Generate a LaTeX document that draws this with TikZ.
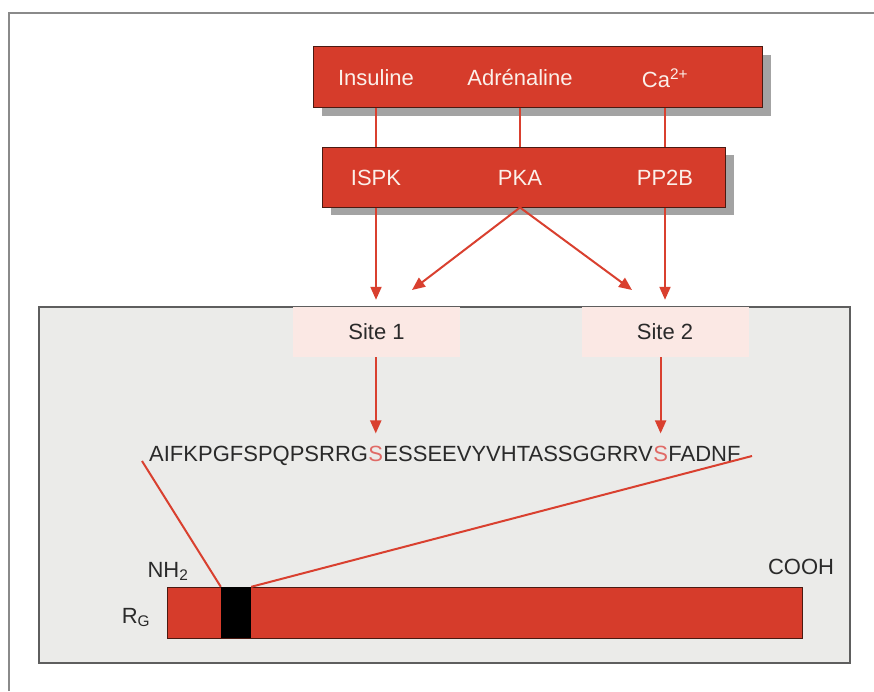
\documentclass[tikz,border=0pt]{standalone}
\usepackage{fontspec}
\setmainfont{Liberation Sans}
\usetikzlibrary{arrows.meta,calc}
\definecolor{boxred}{HTML}{D63C2B}
\definecolor{boxedge}{HTML}{4A1A12}
\definecolor{linered}{HTML}{D9402F}
\definecolor{shadowgray}{HTML}{A3A3A3}
\definecolor{panelfill}{HTML}{EBEBE9}
\definecolor{paneledge}{HTML}{5E5E5E}
\definecolor{sitepink}{HTML}{FBE8E4}
\definecolor{framegray}{HTML}{8A8A8A}
\definecolor{txtdark}{HTML}{2A2A2A}
\definecolor{sred}{HTML}{E06A66}
\definecolor{whitetxt}{HTML}{FBF0EA}
\tikzset{
  redbox/.style={rectangle, fill=boxred, draw=boxedge, line width=1pt, inner sep=0pt},
  shadowbox/.style={rectangle, fill=shadowgray, inner sep=0pt},
  boxtxt/.style={font=\fontsize{22}{26}\selectfont, text=whitetxt, inner sep=0pt},
  conn/.style={draw=linered, line width=2pt},
  arr/.style={draw=linered, line width=2pt, -{Triangle[length=13pt,width=11pt]}},
  sitebox/.style={rectangle, fill=sitepink, inner sep=0pt, minimum width=167pt, minimum height=50pt, font=\fontsize{22}{26}\selectfont, text=txtdark},
  seq/.style={font=\fontsize{22}{26}\selectfont, text=txtdark, inner sep=0pt},
  seqs/.style={seq, text=sred},
  lbl/.style={font=\fontsize{22}{26}\selectfont, text=txtdark, inner sep=0pt}
}
\begin{document}
\begin{tikzpicture}[x=1pt,y=-1pt]
\useasboundingbox (0,0) rectangle (874,691);
% outer frame
\draw[framegray, line width=2pt] (9,691) -- (9,13) -- (874,13);
% top boxes with shadows
\node[shadowbox, minimum width=449pt, minimum height=61pt] (topsh) at (546,85) {};
\node[redbox, minimum width=449pt, minimum height=61pt] (top) at (537.5,76.5) {};
\node[shadowbox, minimum width=403pt, minimum height=60pt] (midsh) at (532,185) {};
\node[redbox, minimum width=403pt, minimum height=60pt] (mid) at (523.5,177) {};
\node[boxtxt] (ins) at (376,78) {Insuline};
\node[boxtxt] (adr) at (520,78) {Adrénaline};
\node[boxtxt] (ca) at (665,78) {Ca\textsuperscript{2+}};
\node[boxtxt] (ispk) at (376,178) {ISPK};
\node[boxtxt] (pka) at (520,178) {PKA};
\node[boxtxt] (pp2b) at (665,178) {PP2B};
\draw[conn] (ins |- top.south) -- (ins |- mid.north);
\draw[conn] (adr |- top.south) -- (adr |- mid.north);
\draw[conn] (ca |- top.south) -- (ca |- mid.north);
% lower panel
\node[rectangle, fill=panelfill, draw=paneledge, line width=2.5pt, minimum width=811pt, minimum height=356pt, inner sep=0pt] (panel) at (444.5,485) {};
\node[sitebox] (site1) at (376.5,332) {Site 1};
\node[sitebox] (site2) at (665,332) {Site 2};
% arrows from enzymes to sites
\coordinate (t1) at (412,290);
\coordinate (t2) at (632,290);
\draw[arr] (ispk |- mid.south) -- ([yshift=7pt]ispk |- site1.north);
\draw[arr] (pp2b |- mid.south) -- ([yshift=7pt]pp2b |- site2.north);
\draw[arr] (pka |- mid.south) -- (t1);
\draw[arr] (pka |- mid.south) -- (t2);
% sequence
\node[seq, anchor=base west] (seqa) at (149,461) {AIFKPGFSPQPSRRG};
\node[seqs, anchor=base west] (sa) at (seqa.base east) {S};
\node[seq, anchor=base west] (seqb) at (sa.base east) {ESSEEVYVHTASSGGRRV};
\node[seqs, anchor=base west] (sb) at (seqb.base east) {S};
\node[seq, anchor=base west] (seqc) at (sb.base east) {FADNF};
\draw[arr] (sa.north |- site1.south) -- ([yshift=12pt]sa.north);
\draw[arr] (sb.north |- site2.south) -- ([yshift=12pt]sb.north);
% bar
\node[rectangle, fill=boxred, draw=boxedge, line width=1pt, minimum width=635pt, minimum height=51pt, inner sep=0pt] (bar) at (484.5,612.5) {};
\node[rectangle, fill=black, minimum width=30pt, minimum height=51pt, inner sep=0pt] (blk) at (236,612.5) {};
\coordinate (l1) at (142,461);
\coordinate (l2) at (752,456);
\draw[conn] (l1) -- (blk.north west);
\draw[conn] (l2) -- (blk.north east);
\node[lbl, anchor=base] (nh) at (168,577) {NH\textsubscript{2}};
\node[lbl, anchor=base] (cooh) at (801,574) {COOH};
\node[lbl, anchor=base] (rg) at (136,623) {R\textsubscript{G}};
\end{tikzpicture}
\end{document}
